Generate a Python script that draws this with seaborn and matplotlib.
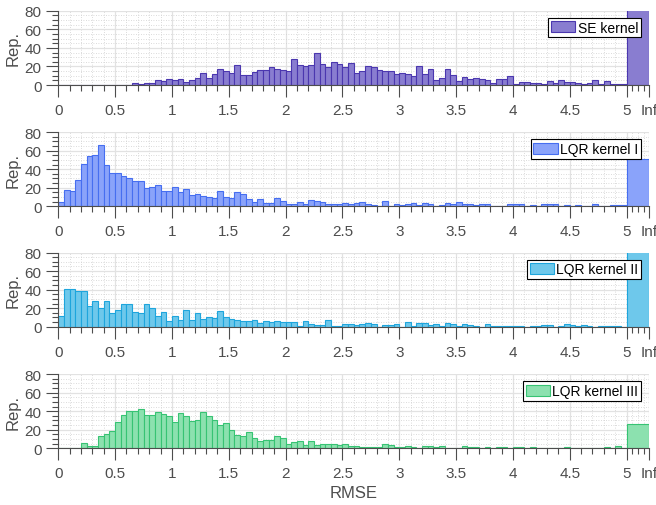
import numpy as np
import pandas as pd
import matplotlib
matplotlib.use("Agg")
import matplotlib.pyplot as plt
from matplotlib.patches import Patch
from matplotlib.ticker import FixedLocator
import seaborn as sns

# RMSE histogram: 100 bins of width 0.05 on [0, 5], plus one overflow bin ("Inf")
bin_width = 0.05
n_bins = 100
inf_edge = 5.2

kernel_names = ["SE kernel", "LQR kernel I", "LQR kernel II", "LQR kernel III"]

se_counts = [
    0, 0, 0, 0, 0, 0, 0, 0, 0, 0,
    0, 0, 0, 2, 1, 2, 2, 5, 4, 6,
    5, 7, 3, 5, 8, 13, 8, 12, 17, 15,
    13, 22, 11, 11, 14, 16, 16, 19, 17, 16,
    15, 28, 22, 21, 22, 35, 23, 19, 25, 23,
    19, 24, 13, 15, 21, 19, 16, 15, 15, 12,
    13, 12, 10, 21, 12, 17, 5, 8, 17, 11,
    4, 9, 6, 8, 7, 5, 2, 6, 7, 10,
    1, 3, 3, 2, 2, 1, 4, 2, 5, 3,
    3, 2, 1, 2, 5, 1, 4, 1, 1, 1,
]
se_inf = 91

lqr1_counts = [
    5, 18, 16, 28, 46, 54, 55, 66, 44, 36,
    36, 33, 31, 27, 27, 20, 21, 23, 16, 16,
    21, 15, 19, 12, 13, 11, 10, 9, 16, 10,
    9, 15, 13, 8, 5, 8, 4, 4, 9, 6,
    3, 3, 5, 3, 7, 6, 5, 3, 2, 2,
    4, 2, 4, 5, 3, 1, 0, 6, 0, 3,
    1, 2, 4, 1, 4, 2, 0, 1, 4, 3,
    5, 2, 3, 1, 2, 2, 0, 0, 0, 2,
    3, 3, 0, 1, 0, 2, 2, 3, 0, 1,
    0, 1, 0, 0, 3, 0, 0, 1, 1, 1,
]
lqr1_inf = 51

lqr2_counts = [
    11, 41, 41, 39, 39, 22, 28, 20, 28, 15,
    18, 24, 24, 16, 15, 24, 20, 11, 16, 6,
    11, 7, 18, 7, 15, 8, 10, 9, 17, 10,
    8, 7, 6, 6, 7, 4, 6, 5, 6, 5,
    5, 5, 1, 6, 3, 2, 2, 7, 1, 1,
    3, 3, 2, 3, 4, 3, 0, 2, 2, 3,
    0, 5, 1, 4, 4, 2, 3, 1, 4, 3,
    1, 3, 2, 1, 0, 3, 1, 1, 1, 1,
    1, 1, 0, 1, 1, 2, 2, 0, 1, 3,
    2, 1, 2, 1, 0, 1, 1, 1, 1, 0,
]
lqr2_inf = 240

lqr3_counts = [
    0, 0, 0, 0, 6, 3, 3, 13, 15, 19,
    28, 36, 40, 40, 42, 36, 36, 39, 37, 35,
    28, 38, 35, 29, 31, 39, 35, 30, 25, 27,
    20, 14, 13, 18, 11, 8, 9, 9, 13, 11,
    5, 7, 8, 4, 8, 4, 5, 5, 5, 4,
    5, 3, 3, 1, 1, 1, 1, 5, 4, 1,
    1, 3, 1, 0, 3, 2, 1, 2, 0, 0,
    0, 2, 1, 1, 0, 1, 0, 1, 1, 0,
    1, 1, 0, 1, 0, 0, 0, 0, 0, 1,
    0, 0, 0, 0, 0, 0, 1, 0, 2, 0,
]
lqr3_inf = 26

all_counts = [se_counts, lqr1_counts, lqr2_counts, lqr3_counts]
all_inf = [se_inf, lqr1_inf, lqr2_inf, lqr3_inf]

face_colors = ["#897dd0", "#8aa3fa", "#6ec8eb", "#8ce1af"]
edge_colors = ["#4b37af", "#466ef0", "#1ea5dc", "#37c373"]

x_major = [0, 0.5, 1, 1.5, 2, 2.5, 3, 3.5, 4, 4.5, 5, 5.2]
x_major_labels = ["0", "0.5", "1", "1.5", "2", "2.5", "3", "3.5", "4", "4.5", "5", "Inf"]
y_major = [0, 20, 40, 60, 80]

sns.set_theme(style="white")
plt.rcParams["font.family"] = ["Liberation Sans", "DejaVu Sans"]
text_gray = "#4d4d4d"

edges = [round(k * bin_width, 2) for k in range(n_bins + 1)] + [inf_edge]
centers = [(a + b) / 2 for a, b in zip(edges[:-1], edges[1:])]

fig = plt.figure(figsize=(6.56, 5.06), dpi=100)
W, H = 656, 506
left_px, right_px = 58.3, 649.3
zero_px = [86.0, 207.3, 327.7, 449.3]
ax_h_px = 74.2

x_minor = [round(v, 2) for v in np.arange(1, 50) * 0.1 if round(v * 10) % 5 != 0]
x_minor += [5.05, 5.1, 5.15]
y_minor = [v for v in range(5, 80, 5) if v % 20 != 0]

axes = []
for i in range(4):
    bottom = (H - zero_px[i]) / H
    ax = fig.add_axes([left_px / W, bottom, (right_px - left_px) / W, ax_h_px / H])
    df = pd.DataFrame({
        "rmse": centers,
        "reps": [float(v) for v in list(all_counts[i]) + [all_inf[i]]],
    })
    sns.histplot(data=df, x="rmse", weights="reps", bins=edges, ax=ax,
                 color=face_colors[i], edgecolor=edge_colors[i],
                 linewidth=0.8, alpha=1.0, stat="count")
    ax.set_xlim(0, inf_edge)
    ax.set_ylim(0, 80)
    ax.set_axisbelow(True)

    ax.xaxis.set_major_locator(FixedLocator(x_major))
    ax.set_xticklabels(x_major_labels)
    ax.xaxis.set_minor_locator(FixedLocator(x_minor))
    ax.yaxis.set_major_locator(FixedLocator(y_major))
    ax.yaxis.set_minor_locator(FixedLocator(y_minor))

    ax.grid(which="major", color="#e2e2e2", linewidth=0.9, linestyle="-")
    ax.grid(which="minor", color="#cfcfcf", linewidth=0.6, linestyle=(0, (1, 2)))

    ax.tick_params(axis="both", which="major", direction="out", length=8.5,
                   width=0.8, color=text_gray, labelcolor=text_gray, labelsize=11)
    ax.tick_params(axis="both", which="minor", direction="out", length=4.5,
                   width=0.8, color=text_gray)
    ax.tick_params(axis="x", which="major", pad=4.5)
    ax.tick_params(axis="y", which="major", pad=3.5)
    ax.tick_params(left=True, bottom=True)
    ax.tick_params(which="minor", left=True, bottom=True)

    for side in ["top", "right"]:
        ax.spines[side].set_visible(False)
    for side in ["left", "bottom"]:
        ax.spines[side].set_color(text_gray)
        ax.spines[side].set_linewidth(0.8)

    ax.set_ylabel("Rep.", fontsize=12, color=text_gray)
    ax.yaxis.set_label_coords(-0.063, 0.5)
    ax.set_xlabel("")

    handle = Patch(facecolor=face_colors[i], edgecolor=edge_colors[i], linewidth=0.8)
    leg = ax.legend([handle], [kernel_names[i]], loc="upper right",
                    bbox_to_anchor=(1 - 8.5 / (right_px - left_px), 1 - 7 / ax_h_px),
                    borderaxespad=0, fontsize=10, frameon=True, fancybox=False,
                    framealpha=1, edgecolor="black", handlelength=1.75,
                    handleheight=0.85, handletextpad=0.15, borderpad=0.2)
    leg.get_frame().set_linewidth(0.8)
    for t in leg.get_texts():
        t.set_color("black")
    axes.append(ax)

axes[-1].set_xlabel("RMSE", fontsize=12, color=text_gray)
axes[-1].xaxis.set_label_coords(0.5, -0.49)

fig.savefig("out.png", dpi=100)
